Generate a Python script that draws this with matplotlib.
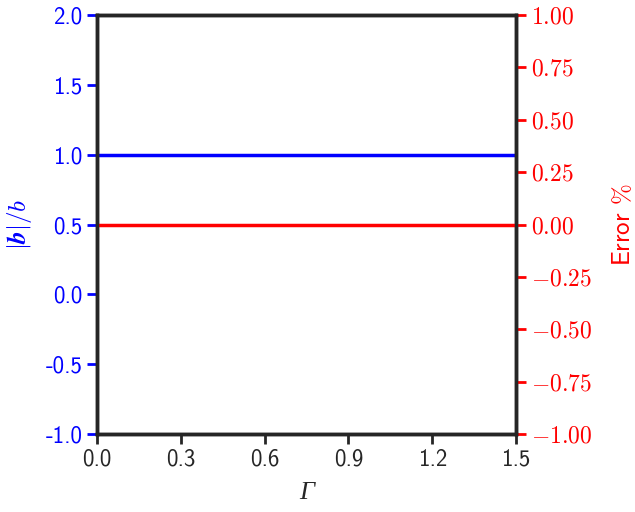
import numpy as np
import matplotlib
matplotlib.use("Agg")
import matplotlib.pyplot as plt
from matplotlib.ticker import FuncFormatter

# --- data ---
gamma = [0.0, 1.5]
b_ratio = [1.0, 1.0]
error_pct = [0.0, 0.0]

x_ticks = [0.0, 0.3, 0.6, 0.9, 1.2, 1.5]
left_ticks = [-1.0, -0.5, 0.0, 0.5, 1.0, 1.5, 2.0]
right_ticks = [-1.0, -0.75, -0.5, -0.25, 0.0, 0.25, 0.5, 0.75, 1.0]

plt.rcParams["font.family"] = ["cmss10", "DejaVu Sans"]
plt.rcParams["mathtext.fontset"] = "cm"
plt.rcParams["axes.unicode_minus"] = False
plt.rcParams["font.size"] = 16

spine_col = "#262626"

fig, ax = plt.subplots(figsize=(6.35, 5.12), dpi=100)
fig.subplots_adjust(left=97 / 635, right=516 / 635, top=1 - 15 / 512, bottom=1 - 434 / 512)

ax.plot(gamma, b_ratio, color="blue", lw=2.5)
ax.set_xlim(0, 1.5)
ax.set_ylim(-1.0, 2.0)
ax.set_xticks(x_ticks)
ax.set_yticks(left_ticks)
ax.xaxis.set_major_formatter(FuncFormatter(lambda v, p: f"{v:.1f}"))
ax.yaxis.set_major_formatter(FuncFormatter(lambda v, p: f"{v:.1f}"))
ax.set_xlabel("\u0393", family="Liberation Serif", style="italic",
              fontsize=19, color=spine_col, labelpad=8)
ax.set_ylabel(r"$|\boldsymbol{b}|/b$", fontsize=18, color="blue", labelpad=8)
ax.tick_params(axis="y", colors="blue", length=7, width=2, labelsize=16.5)
ax.tick_params(axis="x", colors=spine_col, length=7, width=2, labelsize=16.5)
for s in ax.spines.values():
    s.set_color(spine_col)
    s.set_linewidth(2.5)

ax2 = ax.twinx()
ax2.plot(gamma, error_pct, color="red", lw=2.5)
ax2.set_ylim(-1.0, 1.0)
ax2.set_yticks(right_ticks)
ax2.yaxis.set_major_formatter(FuncFormatter(lambda v, p: f"${v:.2f}$"))
ax2.set_ylabel(r"Error $\%$", color="red", fontsize=18, labelpad=14)
ax2.tick_params(axis="y", colors="red", length=7, width=2, labelsize=17)
for s in ax2.spines.values():
    s.set_color(spine_col)
    s.set_linewidth(2.5)

fig.savefig("out.png", dpi=100)
